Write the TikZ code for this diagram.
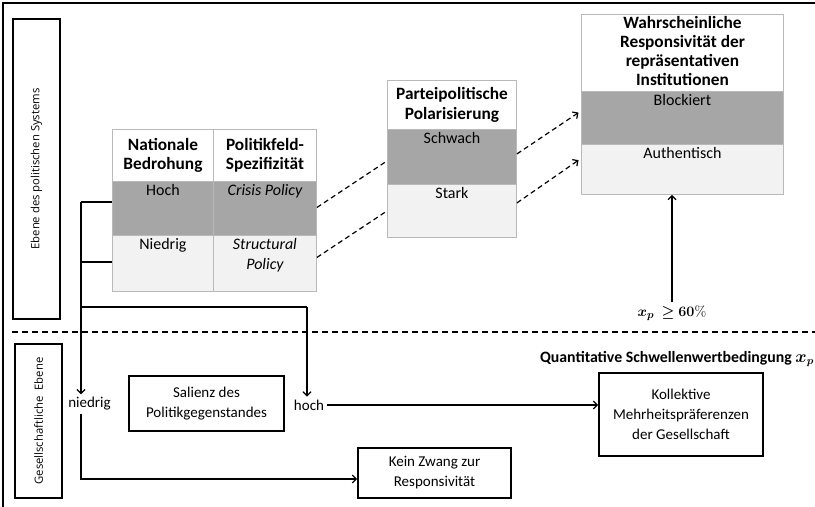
\documentclass[tikz,border=0pt]{standalone}
\usepackage[no-math]{fontspec}
\setmainfont{Carlito}
\newfontfamily\sidefont{Open Sans}
\usepackage{amsmath}
\usepackage{bm}
\usetikzlibrary{positioning,arrows.meta,calc}

\definecolor{darkband}{RGB}{166,166,166}
\definecolor{lightband}{RGB}{242,242,242}
\definecolor{cellline}{RGB}{185,185,185}

\tikzset{
  cell/.style={draw=cellline, line width=0.9bp, anchor=north west, inner sep=0pt},
  head/.style={font=\fontsize{17.3bp}{19.3bp}\selectfont\bfseries, align=center},
  bandtext/.style={anchor=north, inner sep=3.5bp, align=center, font=\fontsize{16bp}{19.5bp}\selectfont},
  box/.style={draw, line width=1.8bp, align=center, inner sep=0pt},
  sidebox/.style={draw, line width=1.8bp, rotate=90, inner sep=0pt, font=\sidefont\fontsize{11.3bp}{13bp}\selectfont},
  link/.style={line width=1.2bp, dash pattern=on 5bp off 3.5bp},
  conn/.style={line width=1.2bp},
  tip/.style={-{Straight Barb[length=4bp,width=8bp]}}
}

\begin{document}
\begin{tikzpicture}[x=1bp, y=-1bp, font=\fontsize{15bp}{20bp}\selectfont]
  \useasboundingbox (0,0) rectangle (815,507);

  % frame
  \draw[line width=1.4bp] (3,507) -- (3,3) -- (815,3);

  % side labels
  \node[sidebox, minimum width=300bp, minimum height=47bp] (sys) at (36.5,169) {Ebene des politischen Systems};
  \node[sidebox, minimum width=154bp, minimum height=47bp] (soc) at (38.5,421) {Gesellschaftliche\ \ Ebene};

  % level separator
  \draw[line width=1.8bp, dash pattern=on 6bp off 4bp] (12,332) -- (815,332);

  % table: threat / policy field
  \node[cell, minimum width=101bp, minimum height=52bp] (t1h1) at (112,129) {};
  \node[cell, minimum width=103bp, minimum height=52bp] (t1h2) at (213,129) {};
  \node[cell, fill=darkband, minimum width=101bp, minimum height=54bp] (t1a1) at (112,181) {};
  \node[cell, fill=darkband, minimum width=103bp, minimum height=54bp] (t1a2) at (213,181) {};
  \node[cell, fill=lightband, minimum width=101bp, minimum height=56bp] (t1b1) at (112,235) {};
  \node[cell, fill=lightband, minimum width=103bp, minimum height=56bp] (t1b2) at (213,235) {};
  \node[head] at (t1h1.center) {Nationale\\Bedrohung};
  \node[head] at (t1h2.center) {Politikfeld-\\Spezifizität};
  \node[bandtext] at (t1a1.north) {Hoch};
  \node[bandtext] at (t1a2.north) {\itshape Crisis Policy};
  \node[bandtext] at (t1b1.north) {Niedrig};
  \node[bandtext] at (t1b2.north) {\itshape Structural\\\itshape Policy};

  % table: polarisation
  \node[cell, minimum width=129bp, minimum height=49bp] (t2h) at (387,80) {};
  \node[cell, fill=darkband, minimum width=129bp, minimum height=55bp] (t2a) at (387,129) {};
  \node[cell, fill=lightband, minimum width=129bp, minimum height=53bp] (t2b) at (387,184) {};
  \node[head] at (t2h.center) {Parteipolitische\\Polarisierung};
  \node[bandtext] at (t2a.north) {Schwach};
  \node[bandtext] at (t2b.north) {Stark};

  % table: responsiveness
  \node[cell, minimum width=202bp, minimum height=77bp] (t3h) at (581,14) {};
  \node[cell, fill=darkband, minimum width=202bp, minimum height=53bp] (t3a) at (581,91) {};
  \node[cell, fill=lightband, minimum width=202bp, minimum height=50bp] (t3b) at (581,144) {};
  \node[head] at ([yshift=2bp]t3h.center) {Wahrscheinliche\\Responsivität der\\repräsentativen\\Institutionen};
  \node[bandtext] at (t3a.north) {Blockiert};
  \node[bandtext] at (t3b.north) {Authentisch};

  % dashed links
  \draw[link] ([yshift=1bp]t1a2.east) -- ([yshift=-4bp]t2a.west);
  \draw[link] ([yshift=6bp]t1b2.east) -- ([yshift=0bp]t2b.west);
  \draw[link, tip, shorten >=3bp] ([yshift=3bp]t2a.east) -- ([yshift=7bp]t3a.west);
  \draw[link, tip, shorten >=3bp] ([yshift=8bp]t2b.east) -- ([yshift=11bp]t3b.west);

  % threshold
  \node[fill=white, inner sep=3bp] (xp) at (672,313) {$\bm{x_p}\ \bm{\geq} \mathbf{60\%}$};
  \draw[conn, tip] (xp.north) -- (xp.north |- t3b.south);
  \node[anchor=east, inner sep=1bp, font=\fontsize{15.8bp}{20bp}\selectfont\bfseries] (cond) at (815,359) {Quantitative Schwellenwertbedingung $\bm{x_p}$};

  % society level
  \node[box, minimum width=155bp, minimum height=55bp] (sal) at (206.5,403.5) {Salienz des\\Politikgegenstandes};
  \node[box, minimum width=164bp, minimum height=83bp] (koll) at (681,414.5) {Kollektive\\Mehrheitspräferenzen\\der Gesellschaft};
  \node[box, minimum width=153bp, minimum height=50bp] (kein) at (434.5,473) {Kein Zwang zur\\Responsivität};
  \node[inner sep=3bp] (niedrig) at (89.5,404) {niedrig};
  \node[inner sep=3bp] (hoch) at (309,405) {hoch};

  % bracket and branches
  \coordinate (bt) at (81,202);
  \coordinate (bb) at (81,262);
  \coordinate (bend) at (81,307);
  \coordinate (hbend) at (307,307);
  \draw[conn] (bt) -- (bt -| t1a1.west);
  \draw[conn] (bb) -- (bb -| t1b1.west);
  \draw[conn] (bend) -- (hbend);
  \draw[conn, tip] (hbend) -- (hbend |- hoch.north);
  \draw[conn, tip] (bt) -- (bt |- niedrig.north);
  \draw[conn, tip] (bt |- niedrig.south) |- ([yshift=-6bp]kein.west);
  \draw[conn, tip] (hoch.east) -- (hoch.east -| koll.west);
\end{tikzpicture}
\end{document}
